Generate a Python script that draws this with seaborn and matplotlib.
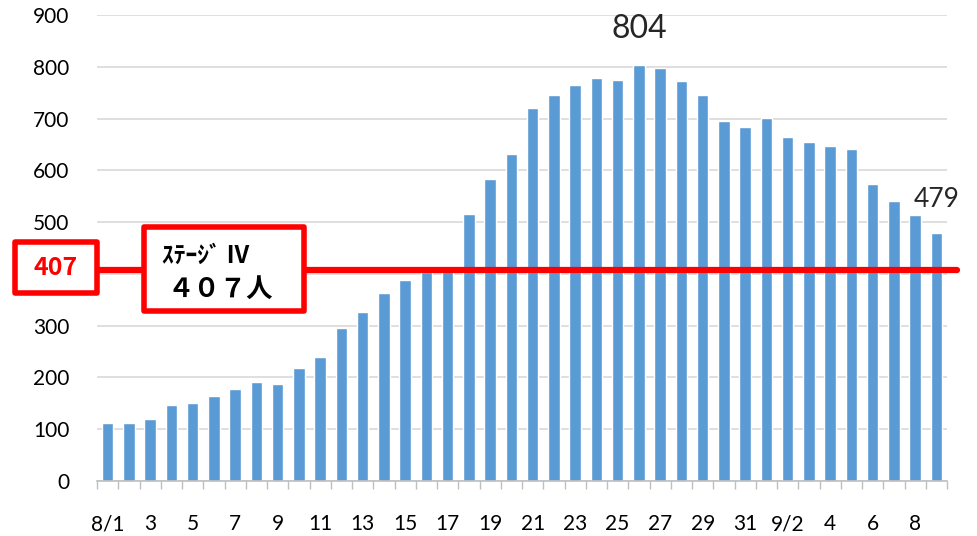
"""Daily counts, Aug 1 - Sep 9, with the stage IV threshold (407) marked."""
import matplotlib
matplotlib.use("Agg")
import matplotlib.pyplot as plt
from matplotlib.patches import Rectangle
import pandas as pd
import seaborn as sns

# --- data ---
DATES = [f"8/{d}" for d in range(1, 32)] + [f"9/{d}" for d in range(1, 10)]
VALUES = [112, 112, 120, 146, 151, 164, 178, 191, 188, 218,
          239, 296, 326, 364, 388, 403, 405, 515, 584, 632,
          720, 745, 765, 778, 775, 804, 797, 772, 746, 695,
          684, 701, 664, 654, 647, 641, 574, 541, 513, 479]
TICK_LABELS = ["8/1", "3", "5", "7", "9", "11", "13", "15", "17", "19",
               "21", "23", "25", "27", "29", "31", "9/2", "4", "6", "8"]
Y_TICKS = list(range(0, 901, 100))
THRESHOLD = 407
THRESHOLD_TEXT = "407"
STAGE_LINE1 = "ｽﾃｰｼﾞ Ⅳ"
STAGE_LINE2 = "４０７人"
PEAK_IDX = 25     # 8/26
LAST_IDX = 39     # 9/9

BAR_COLOR = "#5B9BD5"
RED = "#FF0000"
GRID = "#D9D9D9"

sns.set_theme(style="white")
plt.rcParams["font.family"] = ["Lato", "Noto Sans CJK JP", "DejaVu Sans"]

df = pd.DataFrame({"date": DATES, "count": VALUES})

W, H = 978, 536
fig = plt.figure(figsize=(W / 100, H / 100), dpi=100)
ax = fig.add_axes([97 / W, 1 - 481 / H, 850 / W, 466 / H])

sns.barplot(data=df, x="date", y="count", color=BAR_COLOR, saturation=1,
            width=0.55, ax=ax, zorder=2)

ax.set_ylim(0, 900)
ax.set_xlim(-0.5, len(DATES) - 0.5)
ax.set_yticks(Y_TICKS)
# the 400 label sits under the "407" box in the original
ax.set_yticklabels(["" if v == 400 else str(v) for v in Y_TICKS])
ax.yaxis.grid(True, color=GRID, linewidth=1.2, zorder=0)
ax.set_axisbelow(True)
ax.set_xlabel("")
ax.set_ylabel("")

ax.set_xticks(range(0, len(DATES), 2))
ax.set_xticklabels(TICK_LABELS)
ax.set_xticks([i - 0.5 for i in range(len(DATES) + 1)], minor=True)
ax.tick_params(axis="x", which="major", length=0, pad=24, labelsize=15, colors="black")
ax.tick_params(axis="x", which="minor", length=6, width=1, color="#BFBFBF", bottom=True)
ax.tick_params(axis="y", length=0, pad=20, labelsize=15, colors="black")

for side in ["top", "right", "left"]:
    ax.spines[side].set_visible(False)
ax.spines["bottom"].set_color("#BFBFBF")
ax.spines["bottom"].set_linewidth(1.2)

# threshold line
ax.axhline(THRESHOLD, xmin=0, xmax=1.012, color=RED, linewidth=4.5, zorder=3, clip_on=False)

# value labels for peak and last day
ax.annotate(str(VALUES[PEAK_IDX]), (PEAK_IDX, VALUES[PEAK_IDX]), xytext=(0, 15),
            textcoords="offset points", ha="center", va="bottom", fontsize=23)
ax.annotate(str(VALUES[LAST_IDX]), (LAST_IDX, VALUES[LAST_IDX]), xytext=(0, 15),
            textcoords="offset points", ha="center", va="bottom", fontsize=19)


def px_box(x0, y0, x1, y1):
    """Red-framed white box given in figure pixels (top-left origin)."""
    return Rectangle((x0 / W, 1 - y1 / H), (x1 - x0) / W, (y1 - y0) / H,
                     transform=fig.transFigure, facecolor="white", edgecolor=RED,
                     linewidth=4, joinstyle="round", zorder=5)


fig.patches.append(px_box(15, 242, 97, 293))
fig.text(56 / W, 1 - 268 / H, THRESHOLD_TEXT, color=RED, fontsize=18,
         fontweight="bold", ha="center", va="center", zorder=6,
         family=["Noto Sans CJK JP", "DejaVu Sans"])

fig.patches.append(px_box(144, 227, 304, 311))
fig.text(162 / W, 1 - 256 / H, STAGE_LINE1, color="black", fontsize=17,
         fontweight="bold", ha="left", va="center", zorder=6,
         family=["Noto Sans CJK JP", "DejaVu Sans"])
fig.text(167 / W, 1 - 289 / H, STAGE_LINE2, color="black", fontsize=19,
         fontweight="bold", ha="left", va="center", zorder=6,
         family=["Noto Sans CJK JP", "DejaVu Sans"])

fig.savefig("out.png", dpi=100, facecolor="white")
